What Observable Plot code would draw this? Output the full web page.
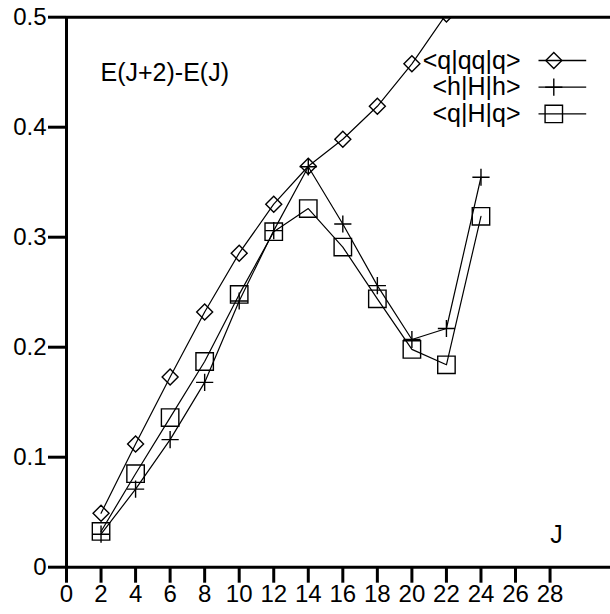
<!DOCTYPE html>
<html>
<head>
<meta charset="utf-8">
<script src="https://cdn.jsdelivr.net/npm/d3@7"></script>
<script src="https://cdn.jsdelivr.net/npm/@observablehq/plot@0.6"></script>
<style>
  html, body { margin: 0; padding: 0; background: #fff; }
  #chart { position: relative; width: 610px; height: 614px; }
  #chart svg { display: block; position: absolute; left: 0; top: 0; }
</style>
</head>
<body>
<div id="chart"></div>
<script>
const J = [2, 4, 6, 8, 10, 12, 14, 16, 18, 20, 22, 24];
const qqq = [0.049, 0.112, 0.173, 0.232, 0.2855, 0.330, 0.3645, 0.389, 0.419, 0.4576, 0.503];
const hHh = [0.030, 0.071, 0.116, 0.168, 0.242, 0.306, 0.364, 0.312, 0.256, 0.207, 0.217, 0.3545];
const qHq = [0.0325, 0.085, 0.136, 0.187, 0.248, 0.305, 0.326, 0.291, 0.244, 0.198, 0.184, 0.319];
const seriesNames = ["<q|qq|q>", "<h|H|h>", "<q|H|q>"];
const xTicks = [0, 2, 4, 6, 8, 10, 12, 14, 16, 18, 20, 22, 24, 26, 28];
const yTicks = [0, 0.1, 0.2, 0.3, 0.4, 0.5];
const plotTitle = "E(J+2)-E(J)";
const xLabel = "J";

const rows = (vals) => vals.map((v, i) => ({J: J[i], v}));
const dQ = rows(qqq), dH = rows(hHh), dS = rows(qHq);

const font = "'Liberation Sans', Arial, Helvetica, sans-serif";
const lineSym = {draw(ctx) { ctx.moveTo(-15.3, 0); ctx.lineTo(32.4, 0); }};

const frameOpts = {
  width: 610,
  height: 614,
  marginLeft: 66,
  marginRight: 0,
  marginTop: 16.7,
  marginBottom: 47.3,
  x: {domain: [0, 31.5]},
  y: {domain: [0, 0.5]}
};

// Base layer: axes, ticks and frame lines
const base = Plot.plot({
  ...frameOpts,
  style: {fontFamily: font, fontSize: "24px", color: "black", background: "white"},
  marks: [
    Plot.axisX({ticks: xTicks, tickSize: 16, tickPadding: 2, fontSize: 24, strokeWidth: 3, label: null, tickFormat: d => String(d)}),
    Plot.axisY({ticks: yTicks, tickSize: 18, tickPadding: 2, fontSize: 24, strokeWidth: 3, label: null, tickFormat: d => String(d)}),
    Plot.ruleX([0], {stroke: "black", strokeWidth: 3}),
    Plot.ruleY([0, 0.5], {stroke: "black", strokeWidth: 3})
  ]
});

const legendRows = [
  {name: seriesNames[0], symbol: "diamond2", r: 7.2, dy: 43.3},
  {name: seriesNames[1], symbol: "plus", r: 5.6, dy: 70},
  {name: seriesNames[2], symbol: "square2", r: 11.1, dy: 96.7}
];

const legendMarks = legendRows.flatMap(row => [
  Plot.text([row.name], {frameAnchor: "top-right", dx: -90, dy: row.dy, text: d => d, textAnchor: "end", lineAnchor: "middle", fontSize: 25, fill: "black"}),
  Plot.dot([row.name], {frameAnchor: "top-right", dx: -56.7, dy: row.dy, symbol: lineSym, r: 5, stroke: "black", strokeWidth: 1.3, fill: "none"}),
  Plot.dot([row.name], {frameAnchor: "top-right", dx: -56.7, dy: row.dy, symbol: row.symbol, r: row.r, stroke: "black", strokeWidth: 1.4, fill: "none"})
]);

// Data layer: series, markers, annotations and legend
const data = Plot.plot({
  ...frameOpts,
  axis: null,
  style: {fontFamily: font, fontSize: "24px", color: "black", background: "transparent"},
  marks: [
    Plot.line(dQ, {x: "J", y: "v", stroke: "black", strokeWidth: 1.2, clip: true}),
    Plot.line(dH, {x: "J", y: "v", stroke: "black", strokeWidth: 1.2, clip: true}),
    Plot.line(dS, {x: "J", y: "v", stroke: "black", strokeWidth: 1.2, clip: true}),
    Plot.dot(dQ, {x: "J", y: "v", symbol: "diamond2", r: 7.2, stroke: "black", strokeWidth: 1.4, fill: "none", clip: true}),
    Plot.dot(dH, {x: "J", y: "v", symbol: "plus", r: 5.6, stroke: "black", strokeWidth: 1.4, fill: "none", clip: true}),
    Plot.dot(dS, {x: "J", y: "v", symbol: "square2", r: 11.1, stroke: "black", strokeWidth: 1.4, fill: "none", clip: true}),
    Plot.text([plotTitle], {frameAnchor: "top-left", dx: 34, dy: 56, text: d => d, textAnchor: "start", lineAnchor: "middle", fontSize: 25, fill: "black"}),
    Plot.text([xLabel], {frameAnchor: "bottom-right", dx: -54, dy: -32, text: d => d, textAnchor: "middle", lineAnchor: "middle", fontSize: 25, fill: "black"}),
    ...legendMarks
  ]
});
data.style.background = "transparent";

const host = document.getElementById("chart");
host.appendChild(base);
host.appendChild(data);
</script>
</body>
</html>
